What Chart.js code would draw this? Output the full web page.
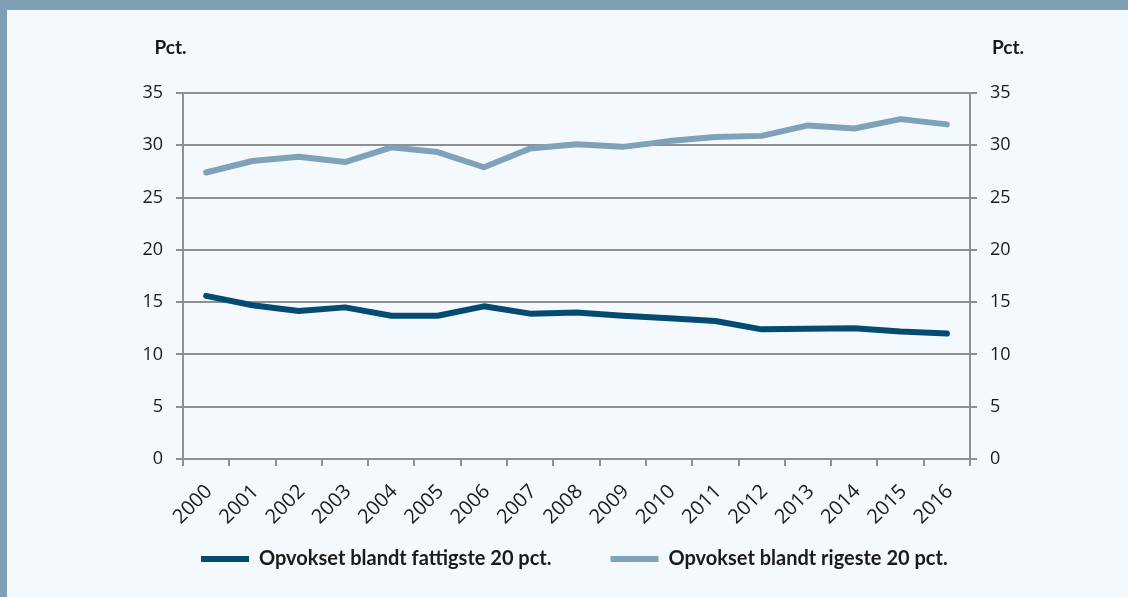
<!DOCTYPE html>
<html lang="da">
<head>
  <meta charset="UTF-8">
  <title>Opvokset blandt fattigste og rigeste 20 pct.</title>
  <script src="https://cdn.jsdelivr.net/npm/chart.js"></script>
  <style>
    body {
      margin: 0;
      padding: 0;
      background-color: #7f9fb5;
      width: 1128px;
      height: 597px;
      overflow: hidden;
    }

    #boks {
      position: absolute;
      left: 7px;
      top: 10px;
      width: 1121px;
      height: 587px;
      background-color: #f4f9fd;
    }
  </style>
</head>
<body>
  <div id="boks">
    <canvas id="diagram" width="1121" height="587"></canvas>
  </div>

  <script>
    const aar = ['2000', '2001', '2002', '2003', '2004', '2005', '2006', '2007', '2008',
                 '2009', '2010', '2011', '2012', '2013', '2014', '2015', '2016'];
    const fattigste = [15.6, 14.7, 14.15, 14.5, 13.7, 13.7, 14.6, 13.9, 14.0,
                       13.7, 13.45, 13.2, 12.4, 12.45, 12.5, 12.2, 12.0];
    const rigeste = [27.4, 28.5, 28.9, 28.4, 29.8, 29.35, 27.9, 29.7, 30.1,
                     29.85, 30.4, 30.8, 30.9, 31.9, 31.6, 32.5, 32.0];
    const yTicks = [0, 5, 10, 15, 20, 25, 30, 35];

    const gitter = '#8f8f8f';
    const tekst = '#1a1a1a';
    const tickFont = { family: '"Open Sans", sans-serif', size: 18 };

    // "Pct." over begge akser
    const pctPlugin = {
      id: 'pct',
      afterDraw(chart) {
        const { ctx, chartArea } = chart;
        ctx.save();
        ctx.font = 'bold 19px Lato, sans-serif';
        ctx.fillStyle = tekst;
        ctx.textAlign = 'center';
        ctx.textBaseline = 'middle';
        ctx.fillText('Pct.', chartArea.left - 12.5, chartArea.top - 45);
        ctx.fillText('Pct.', chartArea.right + 38, chartArea.top - 45);
        ctx.restore();
      }
    };

    // legenden flyttes op under årstallene, lidt til venstre som i originalen
    const legendePlugin = {
      id: 'legendeplads',
      afterLayout(chart) {
        const lg = chart.legend;
        lg.left = 135;
        lg.right = 1121;
        lg.top = 480;
        lg.bottom = 570;
        lg.width = lg.right - lg.left;
        lg.height = lg.bottom - lg.top;
      }
    };

    new Chart(document.getElementById('diagram'), {
      type: 'line',
      data: {
        labels: aar,
        datasets: [
          {
            label: 'Opvokset blandt fattigste 20 pct.',
            data: fattigste,
            borderColor: '#044b72',
            backgroundColor: '#044b72',
            borderWidth: 6,
            borderCapStyle: 'round',
            borderJoinStyle: 'round',
            pointRadius: 0,
            pointStyle: 'line',
            tension: 0,
            yAxisID: 'y'
          },
          {
            label: 'Opvokset blandt rigeste 20 pct.',
            data: rigeste,
            borderColor: '#7fa2b9',
            backgroundColor: '#7fa2b9',
            borderWidth: 6,
            borderCapStyle: 'round',
            borderJoinStyle: 'round',
            pointRadius: 0,
            pointStyle: 'line',
            tension: 0,
            yAxisID: 'y'
          }
        ]
      },
      options: {
        responsive: false,
        animation: false,
        layout: {
          padding: { left: 0, right: 0, top: 83, bottom: 0 }
        },
        plugins: {
          legend: {
            position: 'bottom',
            align: 'start',
            maxHeight: 10,
            labels: {
              usePointStyle: true,
              pointStyleWidth: 48,
              padding: 59,
              color: tekst,
              font: { family: 'Lato, sans-serif', size: 20, weight: 'bold' }
            }
          },
          tooltip: { enabled: false }
        },
        scales: {
          x: {
            offset: true,
            afterFit(scale) { scale.height = 128; },
            grid: {
              offset: true,
              drawOnChartArea: false,
              drawTicks: true,
              tickLength: 7,
              color: gitter,
              lineWidth: 2
            },
            border: { color: gitter, width: 2 },
            ticks: {
              color: tekst,
              font: { family: '"Open Sans", sans-serif', size: 20 },
              maxRotation: 45,
              minRotation: 45,
              padding: 14,
              labelOffset: 3,
              autoSkip: false
            }
          },
          y: {
            position: 'left',
            min: 0,
            max: 35,
            afterFit(scale) { scale.width = 176; },
            afterBuildTicks(scale) { scale.ticks = yTicks.map(v => ({ value: v })); },
            grid: {
              color: gitter,
              lineWidth: 2,
              tickLength: 7
            },
            border: { color: gitter, width: 2 },
            ticks: {
              color: tekst,
              font: tickFont,
              padding: 13
            }
          },
          y2: {
            position: 'right',
            min: 0,
            max: 35,
            afterFit(scale) { scale.width = 158; },
            afterBuildTicks(scale) { scale.ticks = yTicks.map(v => ({ value: v })); },
            grid: {
              drawOnChartArea: false,
              color: gitter,
              lineWidth: 2,
              tickLength: 7
            },
            border: { color: gitter, width: 2 },
            ticks: {
              color: tekst,
              font: tickFont,
              padding: 13
            }
          }
        }
      },
      plugins: [pctPlugin, legendePlugin]
    });
  </script>
</body>
</html>
